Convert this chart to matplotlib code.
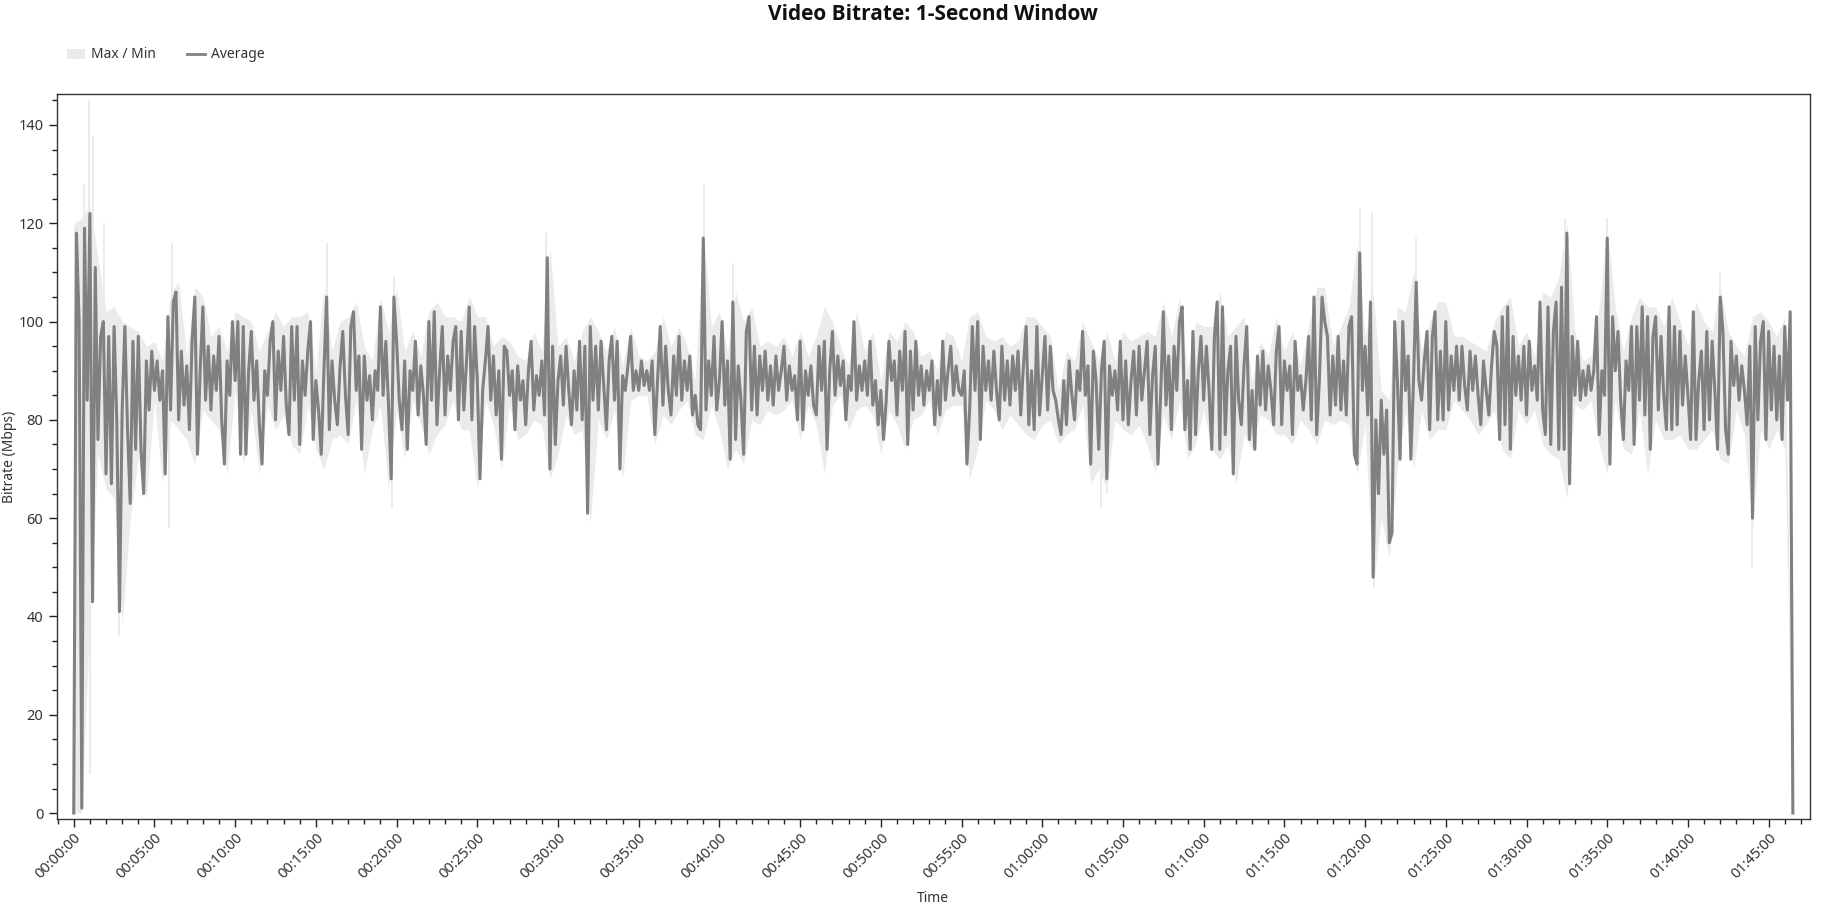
import numpy as np
import matplotlib
matplotlib.use("Agg")
import matplotlib.pyplot as plt
from matplotlib.patches import Patch
from matplotlib.lines import Line2D
from matplotlib.ticker import MultipleLocator, FuncFormatter

plt.rcParams['font.family'] = ['Noto Sans', 'DejaVu Sans']

AVG_STEP = 10    # seconds between average samples
BAND_STEP = 30   # seconds between max/min samples

# average bitrate (Mbps), one row per 5 minutes
avg_mbps = [
    0, 118, 100, 1, 119, 84, 122, 43, 111, 76, 97, 100, 69, 97, 67, 99, 80, 41, 82, 99, 78, 63, 96, 74, 97, 74, 65, 92, 82, 94,
    86, 92, 84, 90, 69, 101, 82, 104, 106, 80, 94, 83, 91, 78, 96, 105, 73, 90, 103, 84, 95, 82, 93, 86, 97, 80, 71, 92, 85, 100,
    88, 100, 73, 99, 73, 90, 98, 84, 92, 79, 71, 90, 85, 96, 100, 80, 94, 86, 97, 83, 77, 99, 84, 99, 75, 92, 85, 94, 100, 76,
    88, 82, 73, 90, 105, 78, 92, 84, 79, 91, 98, 85, 77, 99, 102, 86, 93, 74, 93, 84, 89, 80, 90, 86, 103, 85, 96, 83, 68, 105,
    96, 84, 78, 92, 74, 90, 86, 96, 81, 91, 85, 75, 100, 84, 102, 79, 90, 99, 81, 93, 86, 96, 99, 80, 98, 82, 92, 103, 80, 99,
    88, 68, 86, 92, 99, 84, 93, 81, 90, 72, 95, 94, 85, 90, 78, 91, 84, 88, 79, 90, 96, 82, 89, 85, 92, 81, 113, 70, 95, 75,
    88, 93, 83, 95, 86, 79, 90, 82, 96, 80, 95, 61, 99, 84, 95, 82, 96, 87, 78, 92, 97, 84, 96, 70, 89, 86, 91, 97, 86, 90,
    86, 92, 87, 90, 86, 92, 77, 88, 99, 83, 95, 86, 81, 93, 85, 97, 84, 92, 86, 93, 81, 85, 79, 78, 117, 82, 92, 85, 97, 82,
    88, 100, 83, 92, 72, 104, 76, 91, 84, 73, 98, 101, 82, 95, 81, 93, 86, 94, 84, 91, 83, 93, 86, 90, 95, 84, 91, 86, 89, 80,
    96, 78, 90, 85, 91, 83, 81, 95, 86, 96, 74, 90, 98, 85, 93, 87, 92, 80, 89, 86, 100, 84, 91, 86, 92, 85, 96, 83, 88, 79,
    86, 76, 84, 96, 88, 92, 81, 94, 86, 98, 75, 94, 82, 96, 85, 91, 83, 90, 86, 92, 79, 88, 81, 96, 84, 90, 95, 85, 91, 86,
    85, 90, 71, 82, 99, 86, 100, 76, 95, 86, 92, 84, 94, 86, 80, 95, 84, 92, 83, 93, 86, 94, 81, 91, 99, 79, 90, 78, 99, 81,
    89, 97, 82, 95, 86, 84, 80, 77, 88, 79, 92, 85, 80, 90, 86, 98, 85, 91, 71, 94, 88, 74, 90, 96, 68, 91, 85, 90, 82, 96,
    80, 92, 79, 88, 94, 81, 95, 84, 90, 96, 77, 89, 95, 71, 85, 102, 83, 93, 78, 95, 86, 100, 103, 78, 88, 74, 98, 77, 90, 97,
    84, 95, 86, 74, 97, 104, 74, 103, 77, 90, 95, 69, 97, 84, 79, 91, 99, 76, 86, 74, 93, 83, 94, 82, 91, 86, 79, 94, 99, 79,
    92, 86, 91, 77, 96, 86, 89, 82, 88, 97, 80, 105, 77, 88, 105, 100, 97, 81, 93, 83, 97, 82, 92, 81, 99, 101, 73, 71, 114, 86,
    95, 81, 104, 48, 80, 65, 84, 73, 82, 55, 57, 100, 88, 72, 100, 86, 93, 72, 88, 108, 88, 84, 92, 98, 78, 97, 102, 80, 94, 80,
    100, 82, 93, 86, 95, 84, 95, 87, 82, 94, 86, 93, 85, 79, 92, 86, 81, 91, 98, 95, 76, 101, 79, 103, 74, 97, 85, 93, 84, 95,
    81, 96, 86, 91, 84, 104, 82, 77, 103, 75, 98, 104, 74, 107, 74, 118, 67, 97, 85, 96, 84, 90, 85, 91, 86, 90, 101, 77, 90, 85,
    117, 71, 101, 90, 98, 84, 76, 92, 86, 99, 75, 99, 84, 103, 81, 101, 74, 97, 101, 82, 97, 85, 78, 103, 78, 99, 79, 98, 83, 93,
    85, 76, 102, 76, 88, 94, 78, 98, 80, 96, 86, 74, 105, 98, 78, 73, 96, 87, 93, 84, 91, 86, 79, 95, 60, 99, 80, 96, 100, 76,
    98, 82, 95, 80, 93, 76, 99, 84, 102, 0,
]

# max / min envelope (Mbps), every 30 s
max_mbps = [
    120, 121, 124, 113, 102, 103, 100, 99, 98, 95,
    96, 92, 106, 108, 93, 107, 105, 97, 99, 94,
    102, 101, 100, 94, 98, 102, 99, 101, 101, 102,
    90, 107, 94, 100, 101, 104, 95, 92, 105, 98,
    107, 94, 98, 93, 102, 104, 101, 101, 100, 105,
    101, 101, 95, 97, 96, 93, 92, 98, 94, 115,
    95, 97, 92, 98, 101, 98, 94, 99, 91, 99,
    93, 92, 94, 101, 95, 99, 95, 88, 119, 99,
    102, 94, 106, 100, 103, 95, 96, 95, 97, 93,
    98, 93, 97, 103, 100, 95, 91, 102, 94, 98,
    88, 98, 96, 100, 98, 93, 94, 90, 98, 97,
    92, 101, 102, 97, 96, 97, 95, 96, 101, 101,
    99, 97, 86, 94, 92, 100, 96, 92, 98, 92,
    98, 96, 97, 98, 97, 104, 97, 105, 90, 100,
    99, 99, 106, 97, 99, 101, 88, 96, 93, 101,
    94, 98, 91, 99, 107, 107, 95, 99, 103, 116,
    97, 106, 86, 84, 103, 102, 110, 94, 100, 104,
    104, 97, 97, 96, 95, 94, 100, 103, 105, 95,
    98, 93, 106, 105, 109, 120, 98, 92, 93, 103,
    119, 103, 94, 101, 105, 103, 103, 99, 105, 100,
    95, 104, 100, 98, 107, 98, 95, 93, 101, 102,
    100, 97, 101, 2,
]
min_mbps = [
    0, 0, 40, 73, 66, 64, 38, 60, 72, 64,
    84, 67, 80, 78, 76, 71, 82, 80, 78, 69,
    86, 71, 82, 69, 83, 78, 81, 75, 73, 83,
    74, 70, 76, 77, 75, 84, 69, 78, 83, 66,
    82, 72, 84, 79, 73, 77, 79, 84, 78, 78,
    66, 84, 79, 70, 83, 76, 77, 80, 79, 68,
    73, 81, 77, 78, 59, 80, 76, 82, 68, 84,
    85, 85, 75, 81, 79, 82, 84, 77, 76, 83,
    78, 70, 74, 71, 80, 79, 82, 81, 82, 84,
    76, 83, 79, 69, 83, 85, 78, 82, 83, 81,
    73, 82, 79, 74, 80, 81, 84, 77, 82, 83,
    83, 68, 74, 84, 82, 78, 81, 79, 77, 76,
    79, 80, 75, 77, 78, 83, 67, 70, 66, 80,
    78, 77, 79, 75, 69, 81, 76, 84, 72, 75,
    82, 74, 72, 75, 67, 77, 74, 81, 80, 77,
    77, 75, 80, 78, 75, 80, 79, 80, 79, 69,
    79, 46, 60, 52, 70, 82, 70, 82, 76, 78,
    78, 84, 82, 80, 77, 79, 82, 74, 72, 82,
    79, 82, 75, 73, 72, 64, 83, 82, 84, 75,
    69, 84, 74, 73, 82, 69, 80, 76, 76, 77,
    74, 74, 76, 78, 72, 71, 82, 77, 58, 78,
    74, 78, 74, 0,
]

# single-second extremes of the max / min band
peak_t = [38, 57, 73, 112, 367, 940, 1190, 1756, 2342, 2450, 4781, 4824, 4990, 5543, 5700, 6118]
peak_hi = [128, 145, 138, 120, 116, 116, 109, 118, 128, 112, 123, 122, 117, 121, 121, 110]
dip_t = [60, 168, 354, 1184, 3817, 3842, 4833, 6239]
dip_lo = [8, 36, 58, 62, 62, 65, 46, 50]

t_avg = np.arange(len(avg_mbps)) * AVG_STEP
t_band = np.arange(len(max_mbps)) * BAND_STEP

BAND_COL = '#ebebeb'
AVG_COL = '#808080'


def hms(s, _pos=None):
    s = int(round(s))
    return f"{s // 3600:02d}:{s % 3600 // 60:02d}:{s % 60:02d}"


fig = plt.figure(figsize=(18.3, 9.11), dpi=100)
ax = fig.add_axes([0.0309, 0.1010, 0.9582, 0.7958])

ax.fill_between(t_band, min_mbps, max_mbps, color=BAND_COL, lw=0)
ax.vlines(peak_t, 90, peak_hi, color=BAND_COL, lw=1.4)
ax.vlines(dip_t, dip_lo, 85, color=BAND_COL, lw=1.4)
ax.plot(t_avg, avg_mbps, color=AVG_COL, lw=2.2)

pad = t_avg[-1] * 0.01
ax.set_xlim(-pad, t_avg[-1] + pad)
ax.set_ylim(-1.2, 146.3)

ax.xaxis.set_major_locator(MultipleLocator(300))
ax.xaxis.set_minor_locator(MultipleLocator(60))
ax.xaxis.set_major_formatter(FuncFormatter(hms))
ax.yaxis.set_major_locator(MultipleLocator(20))
ax.yaxis.set_minor_locator(MultipleLocator(5))

ax.tick_params(which='major', length=6, width=1, color='#222', labelsize=10.5, labelcolor='#333')
ax.tick_params(which='minor', length=3.5, width=1, color='#222')
ax.tick_params(axis='x', labelrotation=45, pad=2)
for lbl in ax.get_xticklabels():
    lbl.set_ha('right')
    lbl.set_rotation_mode('anchor')

for sp in ax.spines.values():
    sp.set_color('#333')
    sp.set_linewidth(1)

fig.text(0.5098, 0.9846, "Video Bitrate: 1-Second Window", ha='center', va='center',
         fontsize=15, fontweight='bold', color='#111', family=['Open Sans', 'DejaVu Sans'])
fig.text(10 / 1830, 0.499, "Bitrate (Mbps)", rotation=90, ha='center', va='center',
         fontsize=10, color='#333')
fig.text(0.5096, 0.0132, "Time", ha='center', va='center', fontsize=10, color='#333')

handles = [Patch(facecolor=BAND_COL, edgecolor='none'),
           Line2D([], [], color=AVG_COL, lw=2)]
fig.legend(handles, ["Max / Min", "Average"], loc='center left',
           bbox_to_anchor=(60 / 1830, 1 - 55 / 911), ncol=2, frameon=False,
           fontsize=10, borderpad=0, handlelength=1.3, handletextpad=0.45,
           columnspacing=2.2, labelcolor='#333')

fig.savefig("out.png", dpi=100)
